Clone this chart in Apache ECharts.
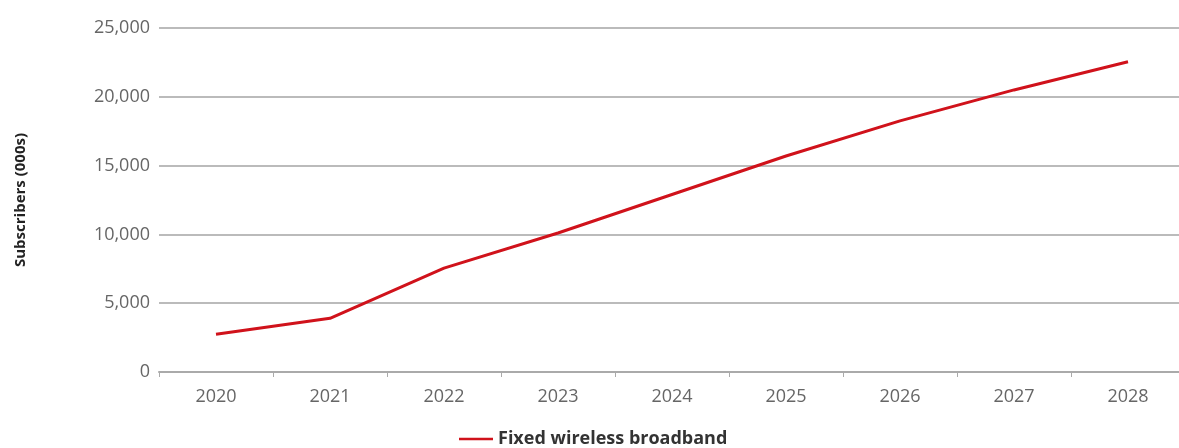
<!DOCTYPE html>
<html>
<head>
<meta charset="utf-8">
<script src="https://cdn.jsdelivr.net/npm/echarts@6/dist/echarts.min.js"></script>
<style>html,body{margin:0;padding:0;background:#fff;}#c{width:1179px;height:448px;}</style>
</head>
<body>
<div id="c"></div>
<script>
var years = ['2020','2021','2022','2023','2024','2025','2026','2027','2028'];
var fixedWireless = [2750, 3900, 7550, 10100, 12900, 15700, 18250, 20500, 22550];
var seriesName = 'Fixed wireless broadband';
var yAxisTitle = 'Subscribers (000s)';

var chart = echarts.init(document.getElementById('c'));
chart.setOption({
  animation: false,
  grid: {left: 159, width: 1026, top: 28, bottom: 76, outerBoundsMode: 'none', containLabel: false},
  legend: {
    data: [seriesName], top: 430, left: 455, padding: [0, 4],
    icon: 'rect', itemWidth: 34, itemHeight: 2.5, itemGap: 8,
    textStyle: {fontFamily: 'Open Sans', fontWeight: 'bold', fontSize: 18, color: '#333'}
  },
  xAxis: {
    type: 'category', data: years, boundaryGap: true,
    axisLine: {lineStyle: {color: '#aaaaaa', width: 2}},
    axisTick: {show: true, length: 5, lineStyle: {color: '#aaaaaa', width: 1}},
    axisLabel: {color: '#666', fontFamily: 'Open Sans', fontSize: 18, margin: 16}
  },
  yAxis: {
    type: 'value', min: 0, max: 25000, interval: 5000,
    name: yAxisTitle, nameLocation: 'middle', nameGap: 131, nameRotate: 90,
    nameTextStyle: {fontFamily: 'Open Sans', fontWeight: 'bold', fontSize: 15, color: '#222'},
    axisLine: {show: false}, axisTick: {show: false},
    splitLine: {lineStyle: {color: '#bbbbbb', width: 2}},
    axisLabel: {color: '#666', fontFamily: 'Open Sans', fontSize: 18, margin: 9,
      formatter: function(v){ return v.toLocaleString('en-US'); }}
  },
  series: [{
    name: seriesName, type: 'line', data: fixedWireless,
    symbol: 'none', lineStyle: {color: '#d0121b', width: 3},
    itemStyle: {color: '#d0121b'}
  }]
});
</script>
</body>
</html>
